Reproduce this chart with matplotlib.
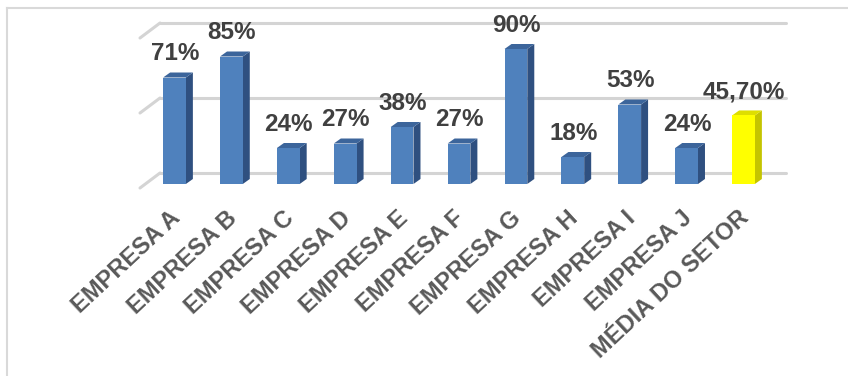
import matplotlib
matplotlib.use("Agg")
import matplotlib.pyplot as plt
from matplotlib.patches import Polygon
from matplotlib.lines import Line2D

# dados do gráfico
categorias = ["EMPRESA A", "EMPRESA B", "EMPRESA C", "EMPRESA D", "EMPRESA E",
              "EMPRESA F", "EMPRESA G", "EMPRESA H", "EMPRESA I", "EMPRESA J",
              "MÉDIA DO SETOR"]
valores = [71, 85, 24, 27, 38, 27, 90, 18, 53, 24, 45.7]
rotulos = ["71%", "85%", "24%", "27%", "38%", "27%", "90%", "18%", "53%", "24%", "45,70%"]
linhas_grade = [0, 50, 100]

plt.rcParams["font.family"] = ["Liberation Sans", "DejaVu Sans"]

fig = plt.figure(figsize=(8.48, 3.76), dpi=100)
ax = fig.add_axes([0, 0, 1, 1])
ax.axis("off")

# escala: 56.9 px por categoria, 1.5 px por ponto percentual
px_cat = 56.9
px_val = 1.5
x0 = 174.5
y0 = 184
ax.set_xlim(-x0 / px_cat, (848 - x0) / px_cat)
ax.set_ylim(-(376 - y0) / px_val, y0 / px_val)

# profundidade 3D
prof_x, prof_y = 7 / px_cat, 5 / px_val
piso_x, piso_y = 20 / px_cat, 15 / px_val
fundo_y = 11 / px_val
x_esq = -34.5 / px_cat
x_dir = (786 - x0) / px_cat

# linhas de grade do fundo + diagonais da parede lateral
for g in linhas_grade:
    yb = g + fundo_y
    ax.plot([x_esq + piso_x, x_dir], [yb, yb], color="#d4d4d4", lw=2.2,
            solid_capstyle="round", zorder=1)
    ax.plot([x_esq, x_esq + piso_x], [yb - piso_y, yb], color="#d4d4d4", lw=2.2,
            solid_capstyle="round", zorder=1)

largura = 0.4
for i, v in enumerate(valores):
    if i == len(valores) - 1:
        frente, lado, topo = "#ffff00", "#c4c400", "#dede00"
    else:
        frente, lado, topo = "#4f81bd", "#2f5080", "#3c659b"
    xr = i + largura / 2
    xl = i - largura / 2
    ax.add_patch(Polygon([(xr, 0), (xr + prof_x, prof_y), (xr + prof_x, v + prof_y), (xr, v)],
                         closed=True, facecolor=lado, edgecolor="none", zorder=2))
    ax.add_patch(Polygon([(xl, v), (xr, v), (xr + prof_x, v + prof_y), (xl + prof_x, v + prof_y)],
                         closed=True, facecolor=topo, edgecolor="none", zorder=2))

cores = ["#4f81bd"] * (len(valores) - 1) + ["#ffff00"]
ax.bar(range(len(valores)), valores, width=largura, color=cores, zorder=3)

for i, (v, r) in enumerate(zip(valores, rotulos)):
    ax.text(i + 0.01, v + 11.5, r, ha="center", va="baseline", fontsize=17.5,
            fontweight="bold", color="#404040", zorder=4)

for i, c in enumerate(categorias):
    ax.text(i - 0.1, -15, c, rotation=43, rotation_mode="anchor", ha="right",
            va="top", fontsize=17, fontweight="bold", color="#595959")

# moldura (somente topo e esquerda visíveis)
fig.add_artist(Line2D([7 / 848, 7 / 848], [0, 1 - 8 / 376], transform=fig.transFigure,
                      color="#d9d9d9", lw=1.5))
fig.add_artist(Line2D([7 / 848, 1], [1 - 8 / 376, 1 - 8 / 376], transform=fig.transFigure,
                      color="#d9d9d9", lw=1.5))

fig.savefig("out.png", dpi=100)
